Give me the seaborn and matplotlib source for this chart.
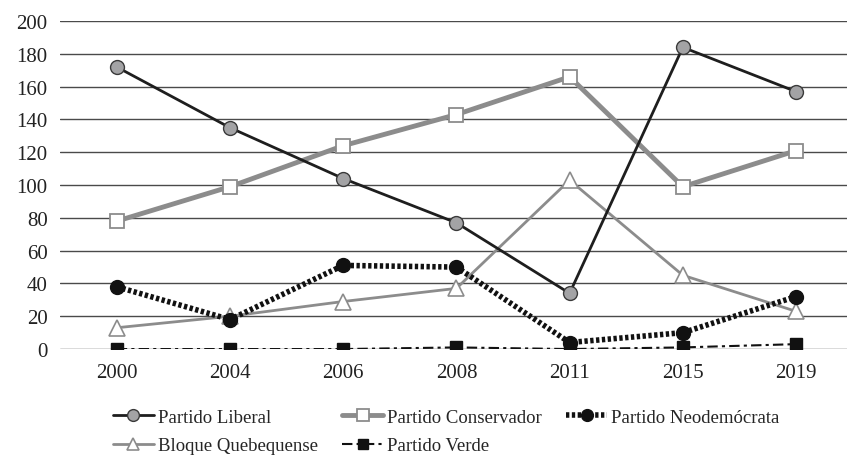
import pandas as pd
import numpy as np
import matplotlib.pyplot as plt
import seaborn as sns

# values
years = ["2000", "2004", "2006", "2008", "2011", "2015", "2019"]
liberal = [172, 135, 104, 77, 34, 184, 157]
conservador = [78, 99, 124, 143, 166, 99, 121]
neodemocrata = [38, 18, 51, 50, 4, 10, 32]
bloque = [13, 20, 29, 37, 103, 45, 23]
verde = [0, 0, 0, 1, 0, 1, 3]

parties = ["Partido Liberal", "Partido Conservador", "Partido Neodemócrata",
           "Bloque Quebequense", "Partido Verde"]
series = [liberal, conservador, neodemocrata, bloque, verde]

df = pd.DataFrame({"Año": years * len(parties),
                   "Partido": np.repeat(parties, len(years)),
                   "Escaños": sum(series, [])})

sns.set_style("white")
plt.rcParams['font.family'] = ['Liberation Serif', 'DejaVu Serif']

fig = plt.figure(figsize=(8.47, 4.6), dpi=100)
ax = fig.add_axes([0.071, 0.239, 0.929, 0.713])

styles = {
    "Partido Liberal": dict(color="#1e1e1e", lw=2.0, marker="o", ms=10,
                            mfc="#a3a3a5", mec="#3a3a3a", mew=1.0, ls="-", zorder=5),
    "Partido Conservador": dict(color="#8c8c8c", lw=3.5, marker="s", ms=10,
                                mfc="white", mec="#8c8c8c", mew=1.3, ls="-", zorder=4),
    "Partido Neodemócrata": dict(color="#111111", lw=4.0, marker="o", ms=10,
                                 mfc="#111111", mec="#111111", mew=1.0,
                                 ls=(0, (0.6, 0.45)), zorder=6),
    "Bloque Quebequense": dict(color="#8c8c8c", lw=2.0, marker="^", ms=11,
                               mfc="white", mec="#8c8c8c", mew=1.2, ls="-", zorder=3),
    "Partido Verde": dict(color="#111111", lw=1.5, marker="s", ms=8,
                          mfc="#111111", mec="#111111", mew=1.0, ls=(0, (5, 2, 1.5, 2)), zorder=7),
}

handles = {}
for p in parties:
    st = styles[p]
    sub = df[df["Partido"] == p]
    sns.lineplot(data=sub, x="Año", y="Escaños", ax=ax, color=st["color"],
                 linewidth=st["lw"], linestyle=st["ls"], marker=st["marker"],
                 markersize=st["ms"], markerfacecolor=st["mfc"],
                 markeredgecolor=st["mec"], markeredgewidth=st["mew"],
                 zorder=st["zorder"], legend=False, sort=False)
    handles[p] = ax.lines[-1]

ax.set_ylim(0, 200)
ax.set_yticks(range(0, 201, 20))
ax.set_xlim(-0.5, 6.45)
ax.yaxis.grid(True, color="#4a4a4a", lw=1.0)
ax.set_axisbelow(True)
for s in ax.spines.values():
    s.set_visible(False)
ax.set_xlabel("")
ax.set_ylabel("")
ax.tick_params(axis="both", length=0, labelsize=15, colors="#222222")
ax.tick_params(axis="y", pad=9)
ax.tick_params(axis="x", pad=10)

order = ["Partido Liberal", "Bloque Quebequense", "Partido Conservador",
         "Partido Verde", "Partido Neodemócrata"]
leg = fig.legend([handles[p] for p in order], order, loc="lower left",
                 bbox_to_anchor=(0.124, -0.006), ncol=3, frameon=False,
                 borderaxespad=0, fontsize=13.5, handlelength=2.2,
                 handletextpad=0.2, columnspacing=1.3, labelspacing=0.6,
                 markerscale=0.85)

fig.savefig("out.png", dpi=100)
